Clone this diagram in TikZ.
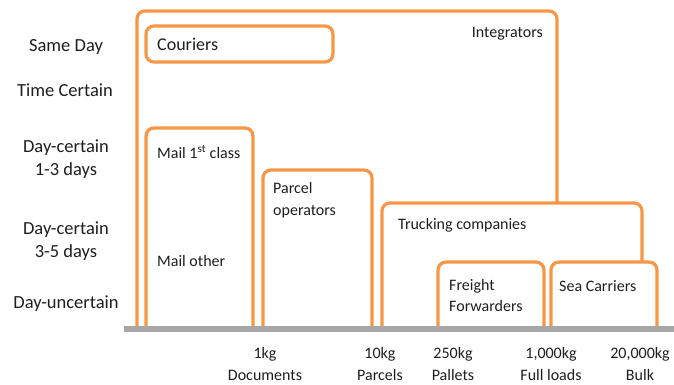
\documentclass[tikz,border=0pt]{standalone}
\usepackage{fontspec}
\setmainfont{Carlito}
\definecolor{boxorange}{RGB}{247,150,70}
\definecolor{axisgray}{RGB}{166,166,166}
\definecolor{txt}{RGB}{30,30,30}
\begin{document}
\begin{tikzpicture}[x=1pt,y=-1pt,
  bx/.style={draw=boxorange,line width=3.2pt,rounded corners=8pt,line join=round},
  side/.style={font=\fontsize{18.5}{23}\selectfont,text=txt,align=center,inner sep=0pt},
  lab/.style={font=\fontsize{16}{20}\selectfont,text=txt,inner sep=0pt},
  tick/.style={font=\fontsize{16}{22}\selectfont,text=txt,align=center,inner sep=0pt}]
\useasboundingbox (0,0) rectangle (674,385);
% boxes
\draw[bx] (137,327) -- (137,11) -- (557,11) -- (557,203);
\draw[bx] (146,26) rectangle (333,62);
\draw[bx] (146,327) -- (146,128) -- (253,128) -- (253,327);
\draw[bx] (263,327) -- (263,170) -- (372,170) -- (372,327);
\draw[bx] (382,327) -- (382,203) -- (642,203) -- (642,262);
\draw[bx] (438,327) -- (438,262) -- (544,262) -- (544,327);
\draw[bx] (551,327) -- (551,262) -- (657,262) -- (657,327);
% axis
\draw[axisgray,line width=6pt] (124,329) -- (674,329);
% left labels
\node[side] (sd) at (66,47) {Same Day};
\node[side] (tc) at (65,90) {Time Certain};
\node[side] (d13) at (66,159) {Day-certain\\1-3 days};
\node[side] (d35) at (66,241) {Day-certain\\3-5 days};
\node[side] (du) at (66,304) {Day-uncertain};
% box labels
\node[lab,font=\fontsize{18}{21}\selectfont,anchor=west] (cou) at (157,44) {Couriers};
\node[lab,anchor=east] (int) at (543,34) {Integrators};
\node[lab,anchor=west] (m1) at (157,152) {Mail 1\textsuperscript{st} class};
\node[lab,anchor=north west,align=left,font=\fontsize{16}{22}\selectfont] (po) at (273,182) {Parcel\\operators};
\node[lab,anchor=west] (mo) at (157,261) {Mail other};
\node[lab,anchor=west] (tr) at (398,225) {Trucking companies};
\node[lab,anchor=north west,align=left,font=\fontsize{16}{21}\selectfont] (ff) at (449,279) {Freight\\Forwarders};
\node[lab,anchor=west] (sc) at (559,286) {Sea Carriers};
% axis labels
\node[tick] (t1) at (265,364) {1kg\\Documents};
\node[tick] (t2) at (380,364) {10kg\\Parcels};
\node[tick] (t3) at (453,364) {250kg\\Pallets};
\node[tick] (t4) at (551,364) {1,000kg\\Full loads};
\node[tick] (t5) at (640,364) {20,000kg\\Bulk};
\end{tikzpicture}
\end{document}
